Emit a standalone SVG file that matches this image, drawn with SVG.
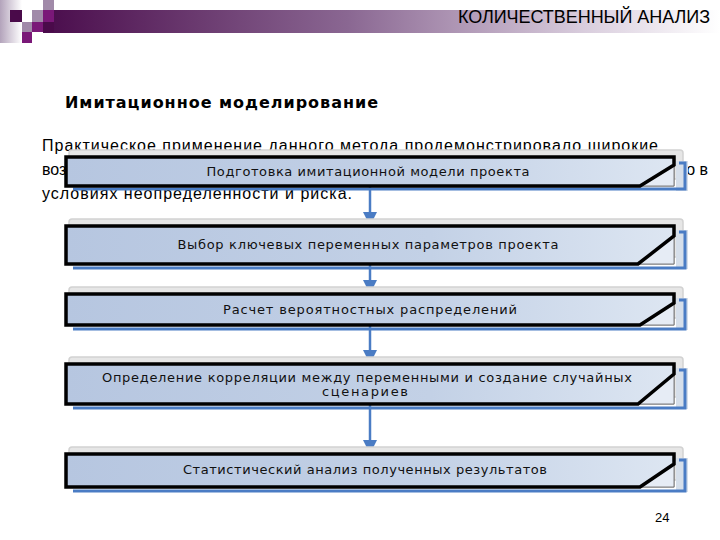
<svg xmlns="http://www.w3.org/2000/svg" width="720" height="540" viewBox="0 0 720 540">
<defs>
<linearGradient id="band" x1="0" y1="0" x2="1" y2="0">
<stop offset="0" stop-color="#4a0c4c"/>
<stop offset="0.45" stop-color="#8a6792"/>
<stop offset="0.8" stop-color="#d9cddd"/>
<stop offset="1" stop-color="#ffffff"/>
</linearGradient>
<linearGradient id="leftg" x1="0" y1="0" x2="1" y2="0">
<stop offset="0" stop-color="#b3a3bb"/>
<stop offset="1" stop-color="#ffffff"/>
</linearGradient>
<linearGradient id="fill" x1="0" y1="0" x2="1" y2="0">
<stop offset="0" stop-color="#b6c6e0"/>
<stop offset="0.6" stop-color="#c3d1e6"/>
<stop offset="1" stop-color="#dde6f2"/>
</linearGradient>
<marker id="ah" markerUnits="userSpaceOnUse" markerWidth="16" markerHeight="14" refX="14" refY="7" orient="auto">
<path d="M0,0 L14,7 L0,14 Z" fill="#4a7cc4"/>
</marker>
<style>
.shadow{fill:#e6e6e6;stroke:#d2d2d2;stroke-width:1.5}
.side{fill:#d6dfea}
.blue{fill:none;stroke:#4a7cc4;stroke-width:3}
.body{fill:url(#fill);stroke:#666;stroke-width:0.8}
.corner{fill:#e6ecf5;stroke:#666;stroke-width:0.8}
.edge{fill:none;stroke:#000;stroke-width:3.5;stroke-linejoin:miter}
.lbl{font-family:"DejaVu Sans",Verdana,sans-serif;font-size:13px;fill:#111;text-anchor:middle}
.para{font-family:"Liberation Sans",Arial,sans-serif;font-size:16px;fill:#000}
.conn{fill:none;stroke:#4a7cc4;stroke-width:2.5}
</style>
</defs>
<rect width="720" height="540" fill="#ffffff"/>
<g id="header">
<rect x="0" y="0" width="22" height="43" fill="url(#leftg)"/>
<rect x="43" y="10" width="677" height="23" fill="url(#band)"/>
<rect x="10" y="10" width="12" height="12" fill="#4a0a4a"/>
<rect x="22" y="10" width="10" height="12" fill="#ffffff"/>
<rect x="43" y="0" width="11" height="10" fill="#a18aa9"/>
<rect x="32" y="10" width="11" height="12" fill="#a18aa9"/>
<rect x="22" y="22" width="10" height="10" fill="#a18aa9"/>
<rect x="43" y="10" width="11" height="12" fill="#7a1878"/>
<rect x="32" y="22" width="11" height="10" fill="#7a1878"/>
<rect x="22" y="32" width="10" height="11" fill="#7a1878"/>
<rect x="43" y="22" width="11" height="10" fill="#4a0a4a"/>
<text x="710" y="23" font-family="Liberation Sans, Arial, sans-serif" font-size="18" text-anchor="end" fill="#000" textLength="252">КОЛИЧЕСТВЕННЫЙ АНАЛИЗ</text>
</g>
<text x="65" y="108" font-family="DejaVu Sans, Verdana, sans-serif" font-size="16" font-weight="bold" fill="#000" textLength="313">Имитационное моделирование</text>
<g id="paragraph">
<text class="para" x="42" y="151" textLength="616">Практическое применение данного метода продемонстрировало широкие</text>
<text class="para" x="42" y="175">воз</text>
<text class="para" x="708" y="175" text-anchor="end">но в</text>
<text class="para" x="42" y="199" textLength="310">условиях неопределенности и риска.</text>
</g>
<g id="connectors">
<line class="conn" x1="370" y1="186" x2="370" y2="226" marker-end="url(#ah)"/>
<line class="conn" x1="370" y1="264" x2="370" y2="294" marker-end="url(#ah)"/>
<line class="conn" x1="370" y1="325" x2="370" y2="364" marker-end="url(#ah)"/>
<line class="conn" x1="370" y1="404" x2="370" y2="454" marker-end="url(#ah)"/>
</g>
<g id="box1">
<rect class="shadow" x="69" y="150" width="614" height="29" rx="3"/>
<rect class="side" x="676" y="161" width="12" height="30"/>
<path class="blue" d="M679 163 H685 V189 H73"/>
<rect class="body" x="66" y="157" width="608" height="29"/>
<polygon class="corner" points="674,165 674,186 640,186"/>
<path class="edge" d="M66 157 H674 V165 L640 186 H66 Z"/>
<text class="lbl" x="368" y="176" textLength="323">Подготовка имитационной модели проекта</text>
</g>
<g id="box2">
<rect class="shadow" x="69" y="219" width="614" height="38" rx="3"/>
<rect class="side" x="676" y="230" width="12" height="39"/>
<path class="blue" d="M679 232 H685 V268 H73"/>
<rect class="body" x="66" y="226" width="608" height="38"/>
<polygon class="corner" points="674,236 674,264 638,264"/>
<path class="edge" d="M66 226 H674 V236 L638 264 H66 Z"/>
<text class="lbl" x="368" y="249" textLength="381">Выбор ключевых переменных параметров проекта</text>
</g>
<g id="box3">
<rect class="shadow" x="69" y="287" width="614" height="31" rx="3"/>
<rect class="side" x="676" y="298" width="12" height="32"/>
<path class="blue" d="M679 300 H685 V329 H73"/>
<rect class="body" x="66" y="294" width="608" height="31"/>
<polygon class="corner" points="674,303 674,325 640,325"/>
<path class="edge" d="M66 294 H674 V303 L640 325 H66 Z"/>
<text class="lbl" x="370" y="314" textLength="294">Расчет вероятностных распределений</text>
</g>
<g id="box4">
<rect class="shadow" x="69" y="357" width="614" height="40" rx="3"/>
<rect class="side" x="676" y="368" width="12" height="41"/>
<path class="blue" d="M679 370 H685 V408 H73"/>
<rect class="body" x="66" y="364" width="608" height="40"/>
<polygon class="corner" points="674,374 674,404 638,404"/>
<path class="edge" d="M66 364 H674 V374 L638 404 H66 Z"/>
<text class="lbl" x="367" y="382" textLength="530">Определение корреляции между переменными и создание случайных</text>
<text class="lbl" x="365" y="396" textLength="86">сценариев</text>
</g>
<g id="box5">
<rect class="shadow" x="69" y="447" width="614" height="33" rx="3"/>
<rect class="side" x="676" y="458" width="12" height="34"/>
<path class="blue" d="M679 460 H685 V491 H73"/>
<rect class="body" x="66" y="454" width="608" height="33"/>
<polygon class="corner" points="674,464 674,487 640,487"/>
<path class="edge" d="M66 454 H674 V464 L640 487 H66 Z"/>
<text class="lbl" x="365" y="474" textLength="364">Статистический анализ полученных результатов</text>
</g>
<text x="655" y="522" font-family="Liberation Sans, Arial, sans-serif" font-size="13" fill="#000">24</text>
</svg>
